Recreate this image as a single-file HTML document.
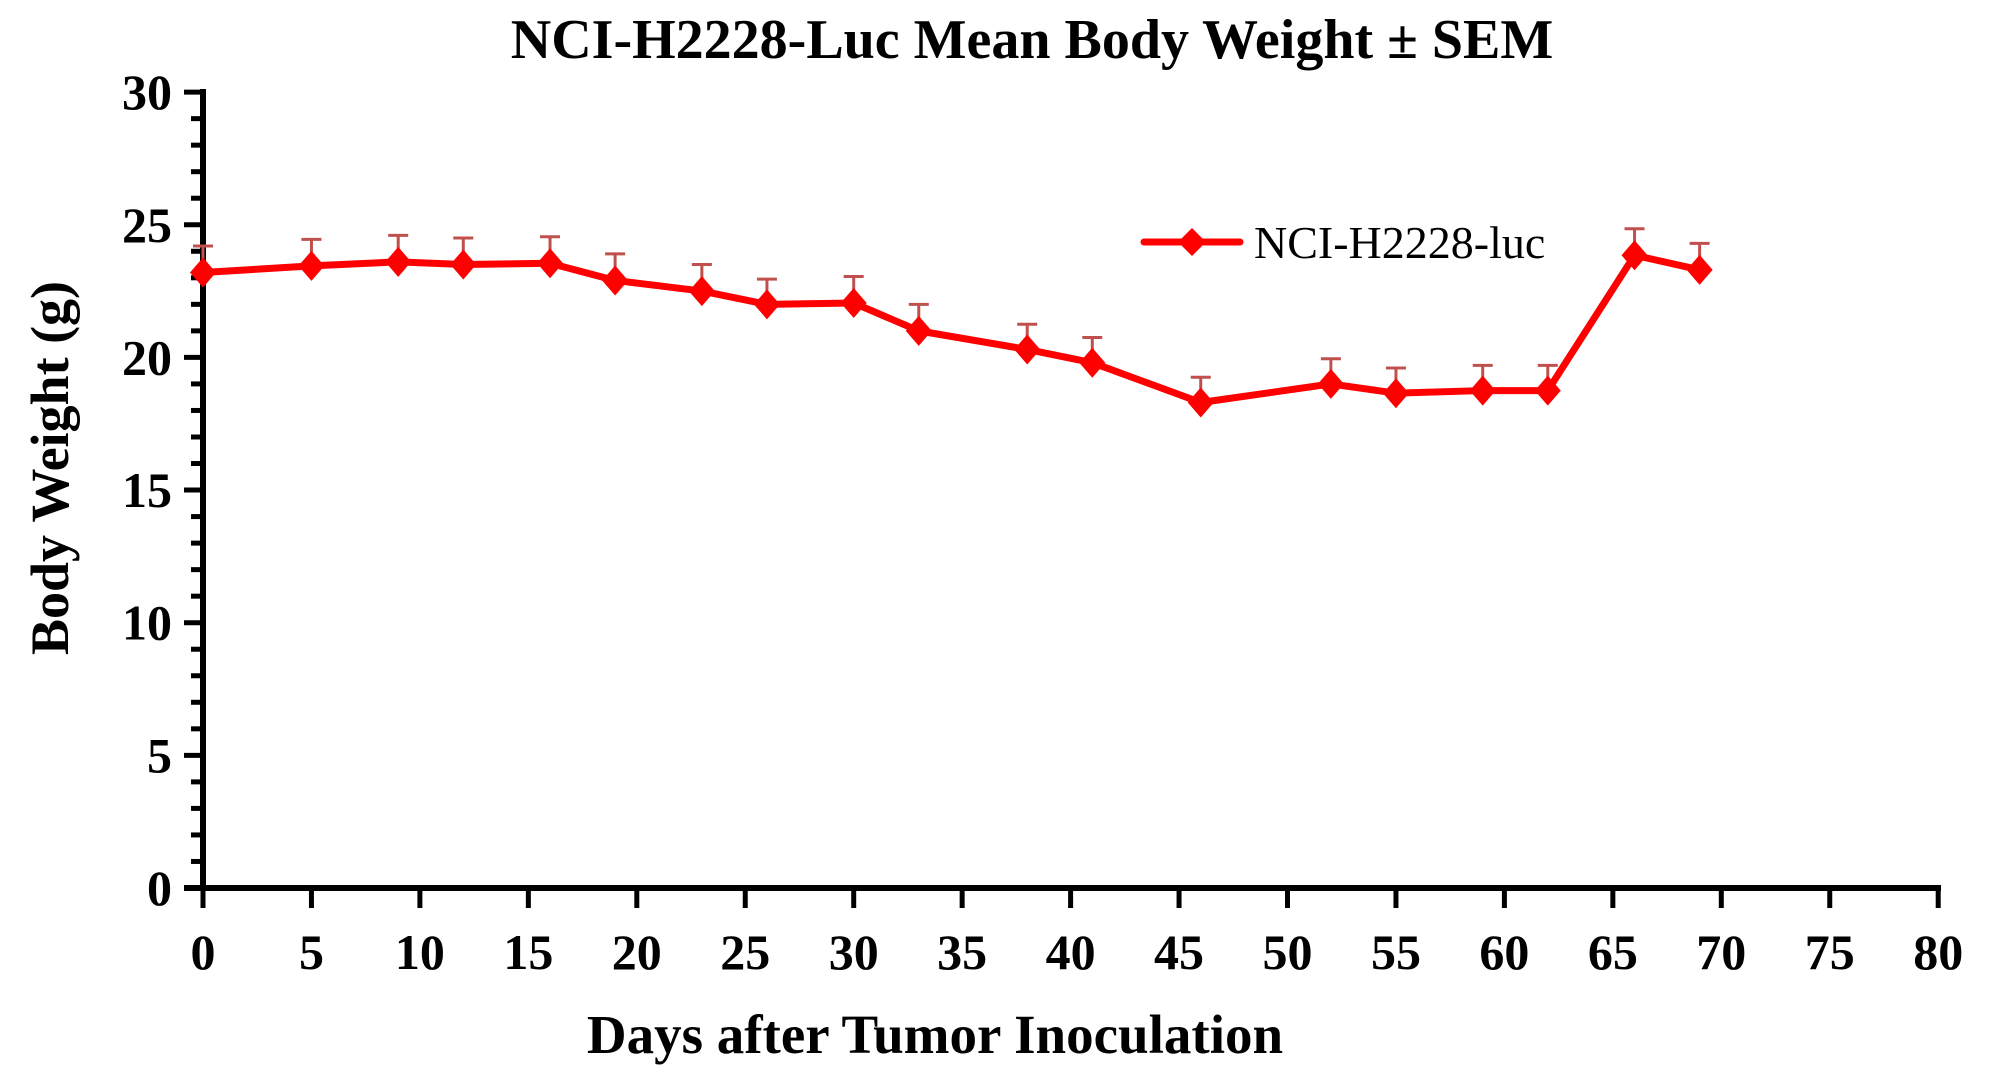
<!DOCTYPE html>
<html><head><meta charset="utf-8"><style>
html,body{margin:0;padding:0;background:#fff;}
svg{display:block;}
text{font-family:"Liberation Serif","Times New Roman",serif;}
</style></head><body>
<svg width="2016" height="1078" viewBox="0 0 2016 1078" xmlns="http://www.w3.org/2000/svg">
<text x="1032" y="58" font-size="56" font-weight="bold" text-anchor="middle">NCI-H2228-Luc Mean Body Weight ± SEM</text>
<g id="axes" stroke="#000" stroke-width="6">
<line x1="203" y1="89" x2="203" y2="891"/>
<line x1="184" y1="888" x2="1941" y2="888"/>
</g>
<g id="yt" stroke="#000" stroke-width="5"></g>
<g id="xt" stroke="#000" stroke-width="5"></g>
<g id="yl" font-size="50" font-weight="bold" text-anchor="end"></g>
<g id="xl" font-size="50" font-weight="bold" text-anchor="middle"></g>
<text x="935" y="1053" font-size="55" font-weight="bold" text-anchor="middle">Days after Tumor Inoculation</text>
<text transform="translate(68,468) rotate(-90)" font-size="54" font-weight="bold" text-anchor="middle">Body Weight (g)</text>
<g id="err" stroke="#c0504d" stroke-width="3"></g>
<polyline id="ln" fill="none" stroke="#ff0000" stroke-width="7" stroke-linejoin="round"/>
<g id="mk" fill="#ff0000"></g>
<line x1="1144" y1="242" x2="1240" y2="242" stroke="#ff0000" stroke-width="7" stroke-linecap="round"/>
<path d="M1192 228 L1206 242 L1192 256 L1178 242 Z" fill="#ff0000"/>
<text x="1254" y="258" font-size="46">NCI-H2228-luc</text>
</svg>
<script>
var ns="http://www.w3.org/2000/svg";
function X(d){return 203+d*21.69;}function Y(v){return 888-v*26.53;}
function el(t,a,p){var e=document.createElementNS(ns,t);for(var k in a)e.setAttribute(k,a[k]);document.getElementById(p).appendChild(e);return e;}
for(var v=1;v<=30;v++){var y=Y(v);var maj=v%5==0;el("line",{x1:maj?184:191,y1:y,x2:203,y2:y},"yt");}
for(var v=0;v<=30;v+=5){var t=el("text",{x:172,y:Y(v)+17},"yl");t.textContent=v;}
for(var d=0;d<=80;d+=5){var x=X(d);el("line",{x1:x,y1:886,x2:x,y2:908},"xt");var t=el("text",{x:x,y:969},"xl");t.textContent=d;}
var D=[[0,23.2,24.2],[5,23.45,24.45],[9,23.6,24.6],[12,23.5,24.5],[16,23.55,24.55],[19,22.9,23.9],[23,22.5,23.5],[26,22.0,22.95],[30,22.05,23.05],[33,21.0,22.0],[38,20.3,21.25],[41,19.8,20.75],[46,18.3,19.25],[52,19.0,19.95],[55,18.65,19.6],[59,18.75,19.7],[62,18.75,19.7],[66,23.85,24.85],[69,23.3,24.3]];
var pts=[];
D.forEach(function(p){var x=X(p[0]),y=Y(p[1]),e=Y(p[2]);pts.push(x+","+y);
el("line",{x1:x,y1:y,x2:x,y2:e},"err");el("line",{x1:x-10,y1:e,x2:x+10,y2:e},"err");
el("path",{d:"M"+x+" "+(y-15)+" L"+(x+13)+" "+y+" L"+x+" "+(y+15)+" L"+(x-13)+" "+y+" Z"},"mk");});
document.getElementById("ln").setAttribute("points",pts.join(" "));
</script>
</body></html>
